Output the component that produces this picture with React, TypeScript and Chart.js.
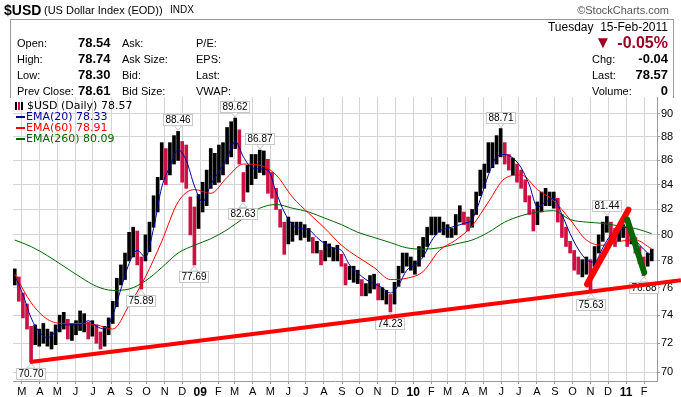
import React, { useEffect, useRef } from 'react';
import { Chart, registerables } from 'chart.js';

Chart.register(...registerables);

// ---- data (days counted from 2008-01-01) ----
const START_DAY = 48; // week of 18-Feb-2008
const WEEK_DAYS = 7;

const weeklyHigh = [
  77.4, 76.8, 75.6, 74.8, 73.2, 73.3, 73.0, 73.4, 73.0, 72.8,
  73.3, 74.0, 74.2, 73.7, 73.4, 73.6, 74.3, 74.1, 73.5, 73.6,
  73.3, 72.8, 73.2, 73.8, 75.0, 76.7, 77.7, 78.6, 80.2, 80.6,
  80.3, 78.3, 80.0, 81.0, 83.1, 84.6, 87.5, 87.0, 87.5, 88.1,
  88.46, 87.6, 87.3, 83.0, 82.2, 83.2, 84.2, 85.2, 87.0, 86.6,
  87.3, 87.5, 88.8, 89.3, 89.62, 88.6, 85.0, 85.6, 86.5, 86.5,
  86.87, 86.8, 86.1, 85.0, 83.7, 82.0, 81.0, 81.4, 81.0, 81.0,
  81.0, 80.8, 80.5, 79.8, 79.5, 78.8, 79.5, 79.3, 79.0, 79.2,
  78.5, 77.8, 77.6, 77.6, 77.3, 76.6, 76.3, 76.9, 77.0, 76.3,
  76.0, 75.8, 75.5, 76.4, 77.6, 78.6, 78.6, 78.3, 78.0, 79.1,
  79.8, 80.6, 81.4, 81.4, 81.4, 81.0, 80.8, 80.5, 81.6, 82.3,
  81.8, 81.4, 82.0, 83.4, 85.2, 85.7, 87.5, 87.5, 88.1, 88.71,
  87.5, 86.5, 86.2, 85.7, 85.2, 84.4, 83.1, 82.0, 82.6, 83.4,
  83.7, 83.4, 83.4, 82.9, 81.6, 80.6, 79.5, 78.8, 78.3, 78.1,
  78.3, 78.1, 79.1, 80.0, 81.0, 81.44, 81.0, 80.5, 80.5, 80.8,
  80.6, 80.3, 79.8, 79.1, 78.3, 78.6, 78.9,
];

const weeklyLow = [
  76.2, 75.0, 73.8, 73.0, 70.7, 71.9, 71.8, 72.0, 71.8, 71.6,
  71.9, 72.8, 73.0, 72.3, 72.2, 72.6, 72.9, 72.8, 72.3, 72.5,
  72.0, 71.6, 71.8, 72.6, 73.4, 74.6, 76.2, 76.6, 78.0, 78.3,
  77.7, 75.89, 78.0, 78.7, 80.6, 81.8, 84.4, 84.0, 84.8, 85.7,
  86.0, 84.2, 83.7, 80.0, 77.69, 80.5, 81.8, 82.3, 83.7, 84.0,
  84.2, 84.8, 85.7, 86.3, 87.0, 85.7, 82.63, 83.4, 84.0, 84.5,
  85.0, 84.8, 83.3, 82.9, 82.0, 80.6, 78.5, 79.3, 79.5, 80.0,
  79.6, 79.8, 79.5, 78.6, 78.6, 77.7, 78.0, 78.3, 78.0, 78.0,
  77.6, 76.2, 76.6, 76.4, 76.3, 75.4, 75.4, 75.6, 75.9, 75.1,
  75.1, 74.8, 74.23, 74.8, 76.1, 77.1, 77.6, 77.3, 77.0, 77.6,
  78.3, 79.1, 80.0, 80.0, 80.2, 80.0, 79.8, 79.8, 80.0, 81.0,
  80.8, 80.3, 80.6, 81.6, 83.1, 83.7, 85.0, 85.4, 85.7, 86.3,
  85.7, 85.2, 84.8, 84.2, 83.7, 82.6, 81.6, 80.3, 80.8, 81.8,
  82.3, 82.3, 82.1, 81.0, 79.8, 79.1, 78.6, 77.3, 77.0, 76.8,
  77.0, 75.63, 77.6, 78.6, 79.5, 80.2, 79.3, 79.1, 79.5, 79.8,
  79.1, 79.3, 78.6, 77.8, 76.88, 77.6, 78.0,
];

// EMA(20), one value every 2 weeks
const ema20 = [
  76.9, 75.5, 73.8, 72.8, 72.4, 72.8, 73.3, 73.3, 73.3, 73.6,
  73.2, 73.0, 74.0, 75.9, 77.8, 78.8, 78.3, 80.5, 83.8, 85.5,
  86.9, 86.0, 83.9, 82.6, 84.0, 85.1, 86.2, 87.6, 86.3, 85.4,
  85.3, 85.2, 83.4, 81.8, 80.8, 80.5, 80.4, 79.8, 79.3, 79.0,
  78.8, 77.7, 77.1, 76.6, 76.3, 76.0, 75.6, 76.2, 77.3, 77.7,
  78.3, 79.5, 80.3, 80.5, 80.7, 80.9, 81.2, 82.8, 84.8, 86.3,
  86.5, 86.2, 85.4, 84.0, 82.2, 82.6, 82.9, 81.6, 80.1, 78.9,
  78.1, 77.9, 79.0, 80.0, 80.3, 80.6, 79.6, 78.9, 78.33,
];

// EMA(60), one value every 4 weeks
const ema60 = [
  77.0, 74.9, 73.7, 73.4, 73.4, 73.3, 73.0, 74.7, 76.8, 79.5,
  82.6, 83.6, 83.3, 84.6, 85.7, 85.6, 84.8, 83.0, 81.7, 80.5,
  79.2, 78.3, 77.5, 76.6, 76.7, 77.2, 78.8, 79.6, 80.7, 82.6,
  84.5, 84.8, 83.6, 82.7, 81.2, 79.6, 79.2, 79.5, 79.6, 78.91,
];

// EMA(260), one value every 4 weeks
const ema260 = [
  79.6, 79.1, 78.4, 77.6, 76.8, 76.1, 75.8, 75.9, 76.5, 77.5,
  78.6, 79.2, 79.7, 80.4, 81.3, 82.1, 82.4, 82.1, 81.8, 81.3,
  80.8, 80.2, 79.8, 79.4, 79.0, 78.9, 79.0, 79.3, 79.6, 80.2,
  81.0, 81.5, 81.8, 81.9, 81.2, 81.0, 80.9, 80.7, 80.5, 80.09,
];

// month starts (day numbers) and their labels
const monthDays = [
  60, 91, 121, 152, 182, 213, 244, 274, 305, 335,
  366, 397, 425, 456, 486, 517, 547, 578, 609, 639, 670, 700,
  731, 762, 790, 821, 851, 882, 912, 943, 974, 1004, 1035, 1065,
  1096, 1127,
];
const monthLabels = [
  'M', 'A', 'M', 'J', 'J', 'A', 'S', 'O', 'N', 'D',
  '09', 'F', 'M', 'A', 'M', 'J', 'J', 'A', 'S', 'O', 'N', 'D',
  '10', 'F', 'M', 'A', 'M', 'J', 'J', 'A', 'S', 'O', 'N', 'D',
  '11', 'F',
];
const yTicks = [70, 72, 74, 76, 78, 80, 82, 84, 86, 88, 90];

// marked highs/lows: week index, value, above/below
const markWeeks = [4, 31, 40, 44, 54, 56, 60, 92, 119, 141, 145, 154];
const markValues = [70.70, 75.89, 88.46, 77.69, 89.62, 82.63, 86.87, 74.23, 88.71, 75.63, 81.44, 76.88];
const markAbove = [false, false, true, false, true, false, true, false, true, false, true, false];

// hand-drawn trend lines: [day, value] end points
const longTrend = [[74, 70.70], [1190, 76.55]];
const riseTrend = [[1029, 76.25], [1100, 81.98]];
const fallTrend = [[1098, 81.2], [1127, 77.14]];

const Y_MIN = 69.41;
const Y_MAX = 91.47;
const X_MIN = 45;
const X_MAX = 1149;

const RED = '#ff0000';
const BLUE = '#000099';
const GREEN = '#006600';
const DOWN = '#cc1144';

const markPlugin = {
  id: 'marks',
  afterDatasetDraw(chart: any, args: any) {
    if (chart.data.datasets[args.index].label !== 'EMA(20)') return;
    const ctx = chart.ctx;
    const xs = chart.scales.x;
    const ys = chart.scales.y;
    ctx.save();
    ctx.font = '10px "Liberation Sans", Arial, sans-serif';
    ctx.textAlign = 'center';
    ctx.textBaseline = 'middle';
    markWeeks.forEach((w, i) => {
      const px = Math.round(xs.getPixelForValue(START_DAY + w * WEEK_DAYS));
      const py = ys.getPixelForValue(markValues[i]);
      const text = markValues[i].toFixed(2);
      const tw = ctx.measureText(text).width + 4;
      const th = 11;
      const gap = 6;
      const top = markAbove[i] ? py - gap - th : py + gap;
      const left = Math.round(px - tw / 2) + 0.5;
      ctx.fillStyle = '#ffffff';
      ctx.strokeStyle = '#c8c8c8';
      ctx.lineWidth = 1;
      ctx.beginPath();
      if (markAbove[i]) {
        ctx.moveTo(px - 4, top + th);
        ctx.lineTo(px, py - 1);
        ctx.lineTo(px + 4, top + th);
      } else {
        ctx.moveTo(px - 4, top);
        ctx.lineTo(px, py + 1);
        ctx.lineTo(px + 4, top);
      }
      ctx.closePath();
      ctx.fill();
      ctx.stroke();
      ctx.fillRect(left, Math.round(top) + 0.5, tw, th);
      ctx.strokeRect(left, Math.round(top) + 0.5, tw, th);
      ctx.fillStyle = '#000000';
      ctx.fillText(text, px, Math.round(top) + th / 2 + 1);
    });
    ctx.restore();
  },
};

function weekPoints(values: number[], step: number) {
  return values.map((v, i) => ({ x: START_DAY + i * step * WEEK_DAYS, y: v }));
}

function App() {
  const ref = useRef<HTMLCanvasElement | null>(null);

  useEffect(() => {
    const canvas = ref.current;
    if (!canvas) return;
    const bars = weeklyHigh.map((h, i) => ({ x: START_DAY + i * WEEK_DAYS, y: [weeklyLow[i], h] }));
    const barColors = weeklyHigh.map((h, i) => {
      if (i === 0) return '#000000';
      const mid = (h + weeklyLow[i]) / 2;
      const prev = (weeklyHigh[i - 1] + weeklyLow[i - 1]) / 2;
      return prev - mid > 0.35 ? DOWN : '#000000';
    });
    const trend = (pts: number[][]) => pts.map((p) => ({ x: p[0], y: p[1] }));

    const chart = new Chart(canvas, {
      type: 'bar',
      data: {
        datasets: [
          {
            type: 'bar',
            label: '$USD',
            data: bars as any,
            backgroundColor: barColors,
            barThickness: 3,
            order: 6,
          } as any,
          {
            type: 'line',
            label: 'EMA(260)',
            data: weekPoints(ema260, 4),
            borderColor: GREEN,
            borderWidth: 1,
            pointRadius: 0,
            cubicInterpolationMode: 'monotone',
            order: 5,
          },
          {
            type: 'line',
            label: 'EMA(60)',
            data: weekPoints(ema60, 4),
            borderColor: RED,
            borderWidth: 1,
            pointRadius: 0,
            cubicInterpolationMode: 'monotone',
            order: 4,
          },
          {
            type: 'line',
            label: 'EMA(20)',
            data: weekPoints(ema20, 2),
            borderColor: BLUE,
            borderWidth: 1,
            pointRadius: 0,
            cubicInterpolationMode: 'monotone',
            order: 3,
          },
          {
            type: 'line',
            label: 'trend',
            data: trend(longTrend),
            borderColor: RED,
            borderWidth: 4,
            pointRadius: 0,
            clip: false,
            order: 2,
          } as any,
          {
            type: 'line',
            label: 'rise',
            data: trend(riseTrend),
            borderColor: RED,
            borderWidth: 6,
            borderCapStyle: 'round',
            pointRadius: 0,
            order: 1,
          },
          {
            type: 'line',
            label: 'fall',
            data: trend(fallTrend),
            borderColor: GREEN,
            borderWidth: 6,
            borderCapStyle: 'round',
            pointRadius: 0,
            order: 0,
          },
        ],
      },
      options: {
        animation: false,
        responsive: false,
        maintainAspectRatio: false,
        events: [],
        layout: { padding: { left: 13, top: 97, right: 0, bottom: 0 } },
        plugins: { legend: { display: false }, tooltip: { enabled: false } },
        scales: {
          x: {
            type: 'linear',
            min: X_MIN,
            max: X_MAX,
            offset: false,
            grid: { offset: false, color: '#d4d4d4', tickLength: 3, tickColor: '#999999' },
            border: { color: '#999999' },
            afterBuildTicks: (s: any) => {
              s.ticks = monthDays.map((v) => ({ value: v }));
            },
            afterFit: (s: any) => {
              s.height = 16;
            },
            ticks: {
              autoSkip: false,
              maxRotation: 0,
              padding: 1,
              color: '#000000',
              callback: (_v: any, i: number) => monthLabels[i],
              font: (c: any) => {
                const lbl = monthLabels[c.index];
                return lbl && lbl.length === 2
                  ? { family: '"Liberation Sans", Arial, sans-serif', size: 12, weight: 'bold' }
                  : { family: '"Liberation Sans", Arial, sans-serif', size: 11 };
              },
            },
          } as any,
          y: {
            type: 'logarithmic',
            position: 'right',
            min: Y_MIN,
            max: Y_MAX,
            beginAtZero: false,
            grid: { color: '#d4d4d4', tickLength: 3, tickColor: '#999999' },
            border: { color: '#999999' },
            afterBuildTicks: (s: any) => {
              s.ticks = yTicks.map((v) => ({ value: v }));
            },
            afterFit: (s: any) => {
              s.width = 24;
            },
            ticks: {
              padding: 1,
              color: '#000000',
              callback: (v: any) => String(v),
              font: { family: '"Liberation Sans", Arial, sans-serif', size: 11 },
            },
          } as any,
        },
      },
      plugins: [markPlugin],
    });
    return () => chart.destroy();
  }, []);

  const font = '"Liberation Sans", Arial, sans-serif';
  const T = (p: { x?: number; r?: number; y: number; bold?: boolean; size?: number; color?: string; children: any }) => (
    <div
      style={{
        position: 'absolute',
        left: p.x !== undefined ? p.x : undefined,
        right: p.r !== undefined ? 681 - p.r : undefined,
        top: p.y - 8,
        height: 16,
        lineHeight: '16px',
        fontFamily: font,
        fontSize: p.size || 11,
        fontWeight: p.bold ? 'bold' : 'normal',
        color: p.color || '#000',
        whiteSpace: 'nowrap',
      }}
    >
      {p.children}
    </div>
  );
  const legFont = '"DejaVu Sans", Verdana, sans-serif';
  const Leg = (p: { y: number; color: string; children: any }) => (
    <div style={{ position: 'absolute', left: 16, top: p.y - 7, height: 14, lineHeight: '14px', fontFamily: legFont, fontSize: 11, color: p.color, whiteSpace: 'nowrap' }}>
      <span style={{ display: 'inline-block', width: 9, height: 2, background: p.color, verticalAlign: 'middle', marginRight: 1 }} />
      {p.children}
    </div>
  );

  return (
    <div style={{ position: 'absolute', left: 0, top: 0, width: 681, height: 397, background: '#fff', overflow: 'hidden' }}>
      <canvas ref={ref} width={681} height={397} style={{ position: 'absolute', left: 0, top: 0, width: 681, height: 397 }} />
      {/* title row */}
      <T x={4} y={10} bold size={14}>$USD</T>
      <T x={44} y={10} size={11}>(US Dollar Index (EOD))</T>
      <T x={170} y={10} size={10}>INDX</T>
      <T r={669} y={10} size={11} color="#555">©StockCharts.com</T>
      {/* header box */}
      <div style={{ position: 'absolute', left: 10, top: 19, width: 662, height: 78, borderTop: '1px solid #999', borderLeft: '1px solid #999', borderRight: '1px solid #999' }} />
      <T r={668} y={27} size={12}>Tuesday&nbsp;&nbsp;15-Feb-2011</T>
      <T x={17} y={43}>Open:</T>
      <T x={78} y={43} bold size={13}>78.54</T>
      <T x={122} y={43}>Ask:</T>
      <T x={196} y={43}>P/E:</T>
      <T r={668} y={43} bold size={16} color="#990022">
        <span style={{ fontSize: 17, marginRight: 6 }}>▼</span>-0.05%
      </T>
      <T x={17} y={59}>High:</T>
      <T x={78} y={59} bold size={13}>78.74</T>
      <T x={122} y={59}>Ask Size:</T>
      <T x={196} y={59}>EPS:</T>
      <T x={592} y={59}>Chg:</T>
      <T r={668} y={59} bold size={13}>-0.04</T>
      <T x={17} y={75}>Low:</T>
      <T x={78} y={75} bold size={13}>78.30</T>
      <T x={122} y={75}>Bid:</T>
      <T x={196} y={75}>Last:</T>
      <T x={592} y={75}>Last:</T>
      <T r={668} y={75} bold size={13}>78.57</T>
      <T x={17} y={91}>Prev Close:</T>
      <T x={78} y={91} bold size={13}>78.61</T>
      <T x={122} y={91}>Bid Size:</T>
      <T x={196} y={91}>VWAP:</T>
      <T x={592} y={91}>Volume:</T>
      <T r={668} y={91} bold size={13}>0</T>
      {/* legend */}
      <div style={{ position: 'absolute', left: 15, top: 99, height: 14, lineHeight: '14px', fontFamily: legFont, fontSize: 11, color: '#000', whiteSpace: 'nowrap' }}>
        <span style={{ display: 'inline-block', width: 2, height: 8, background: '#000', verticalAlign: 'middle', marginRight: 1 }} />
        <span style={{ display: 'inline-block', width: 2, height: 8, background: DOWN, verticalAlign: 'middle', marginRight: 1 }} />
        <span style={{ display: 'inline-block', width: 2, height: 8, background: '#000', verticalAlign: 'middle', marginRight: 4 }} />
        $USD (Daily) 78.57
      </div>
      <Leg y={117} color={BLUE}>EMA(20) 78.33</Leg>
      <Leg y={128} color={RED}>EMA(60) 78.91</Leg>
      <Leg y={139} color={GREEN}>EMA(260) 80.09</Leg>
    </div>
  );
}

export default App;
